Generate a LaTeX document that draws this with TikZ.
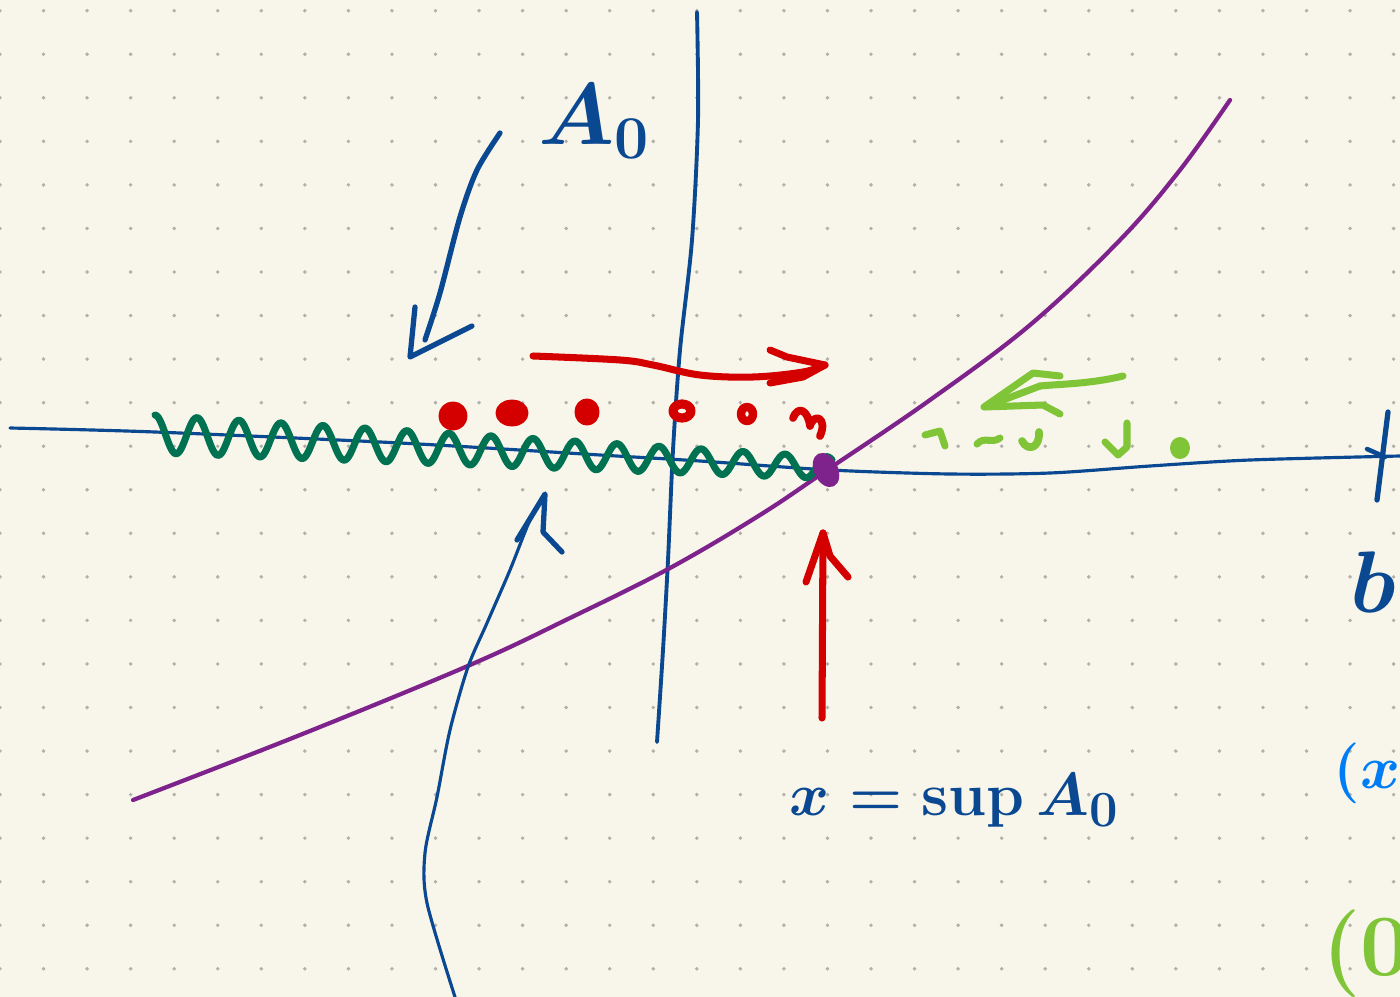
\documentclass[tikz,border=0pt]{standalone}
\usepackage{xcolor}

\definecolor{paper}{RGB}{248,246,234}
\definecolor{dotgray}{RGB}{178,176,170}
\definecolor{inkblue}{RGB}{10,72,146}
\definecolor{inkpurple}{RGB}{126,34,140}
\definecolor{inkgreen}{RGB}{0,114,82}
\definecolor{inkred}{RGB}{212,0,0}
\definecolor{inklime}{RGB}{128,196,56}
\definecolor{inksky}{RGB}{0,125,245}

\begin{document}
\begin{tikzpicture}[x=0.01cm, y=-0.01cm, line cap=round, line join=round]

% --- Stijlen ---
\tikzset{
    paperdot/.style={
        fill=dotgray
    },
    axisink/.style={
        draw=inkblue,
        line width=0.9pt
    },
    markink/.style={
        draw=inkblue,
        line width=1.5pt
    },
    purplecurve/.style={
        draw=inkpurple,
        line width=1.2pt
    },
    wavegreen/.style={
        draw=inkgreen,
        line width=2pt
    },
    redink/.style={
        draw=inkred,
        fill=inkred,
        line width=2pt
    },
    limeink/.style={
        draw=inklime,
        line width=1.7pt
    },
    handlabel/.style={
        inner sep=0pt,
        anchor=base west
    }
}

% --- Papier met stippenraster ---
\useasboundingbox (0,0) rectangle (1400,997);
\fill[paper] (0,0) rectangle (1400,997);
\clip (0,0) rectangle (1400,997);

\foreach \i in {0,...,32}
    \foreach \j in {0,...,22}
        \fill[paperdot] ({\i*43.55},{10.7+\j*43.55}) circle (0.55pt);

% --- Assen ---
\draw[axisink]
    plot[smooth, tension=0.5] coordinates
    {(10,428) (155,432) (400,443) (600,455) (700,461) (830,470)
     (950,474) (1050,473) (1150,466) (1250,460) (1400,456)};
\draw[axisink, line width=1.3pt] (1367,449) -- (1385,457);
\draw[markink] (1388,412) -- (1377,500);

\draw[axisink, line width=1.1pt]
    plot[smooth] coordinates
    {(697,12) (698,120) (692,240) (680,350) (673,450) (668,560) (663,650) (657,742)};

% --- Stijgende kromme ---
\draw[purplecurve]
    plot[smooth, tension=0.6] coordinates
    {(133,800) (300,735) (470,665) (570,618) (670,568) (760,515) (830,468)
     (930,400) (1030,325) (1120,240) (1180,170) (1230,100)};

% --- Golflijn over A_0 ---
% periode van 42 px: 360/42 graden per px
\draw[wavegreen]
    plot[domain=155:832, samples=420]
        (\x, {434 + (\x-155)*0.05
              - (19-(\x-155)*0.012)*cos(8.57*(\x-155))});

% --- Rode punten ---
\fill[redink] (453,416) circle[radius=11];
\fill[redink] (512,413) circle[x radius=13, y radius=10];
\fill[redink] (587,412) circle[x radius=9, y radius=10];
\draw[redink, fill=none, line width=2.6pt] (682,411) circle[x radius=9, y radius=7];
\draw[redink, fill=none, line width=2.4pt] (747,414) circle[x radius=6, y radius=7];
\draw[redink, fill=none, line width=2.2pt]
    (793,418) .. controls (798,405) and (808,410) .. (810,426)
              .. controls (814,412) and (828,418) .. (820,436);

% --- Groene punten ---
\draw[limeink, line width=2pt] (925,435) -- (940,431) -- (945,446);
\draw[limeink, line width=2pt] (977,444) .. controls (984,436) and (992,444) .. (1000,438);
\draw[limeink, line width=2.2pt] (1022,441) .. controls (1028,452) and (1040,448) .. (1039,432);
\draw[limeink, line width=2pt] (1105,442) -- (1118,455) -- (1127,447) -- (1127,423);
\fill[inklime] (1180,448) circle[x radius=10, y radius=11];

% --- Snijpunt ---
\fill[inkpurple, rotate around={25:(826,470)}] (826,470) circle[x radius=12, y radius=18];

% --- Rode pijl naar rechts ---
\draw[redink, fill=none]
    plot[smooth, tension=0.6] coordinates
    {(533,356) (620,360) (653,365) (700,375) (753,377) (803,372) (825,365)};
\draw[redink, fill=none] (770,350) -- (787,357) -- (825,365) -- (803,377) -- (770,383);

% --- Groene pijl naar links ---
\draw[limeink, line width=2pt] (1123,376) .. controls (1090,384) and (1060,384) .. (1040,386);
\draw[limeink, line width=2pt] (1060,376) -- (1033,373) -- (984,407) -- (1043,405) -- (1060,414);
\draw[limeink, line width=2pt] (1040,386) -- (990,405);

% --- Rode pijl omhoog ---
\draw[redink, fill=none] (822,718) -- (823,533);
\draw[redink, fill=none] (806,582) -- (823,533) -- (830,556) -- (848,577);

% --- Pijl vanaf A_0 ---
\draw[markink]
    plot[smooth] coordinates
    {(500,133) (477,170) (460,217) (440,293) (425,340)};
\draw[markink] (415,307) -- (410,357) -- (472,326);

% --- Pijl van onderen ---
\draw[axisink]
    plot[smooth] coordinates
    {(455,997) (427,903) (425,853) (437,797) (450,730) (468,667)
     (487,623) (510,570) (530,520) (545,495)};
\draw[markink] (517,540) -- (545,494) -- (543,532) -- (562,552);

% --- Labels ---
\node[handlabel, text=inkblue, font=\fontsize{25}{30}\selectfont\boldmath] (lblAzero)
    at (538,145) {$A_0$};

\node[handlabel, text=inkblue, font=\fontsize{19}{23}\selectfont\boldmath] (lblSup)
    at (789,815) {$x=\sup A_0$};

\node[handlabel, text=inkblue, font=\fontsize{28}{32}\selectfont\boldmath] (lblB)
    at (1350,612) {$b$};

\node[handlabel, text=inksky, font=\fontsize{19}{22}\selectfont\boldmath] (lblParenX)
    at (1333,788) {$(x$};

\node[handlabel, text=inklime, font=\fontsize{26}{30}\selectfont\boldmath] (lblParenZero)
    at (1322,975) {$(0$};

\end{tikzpicture}
\end{document}
